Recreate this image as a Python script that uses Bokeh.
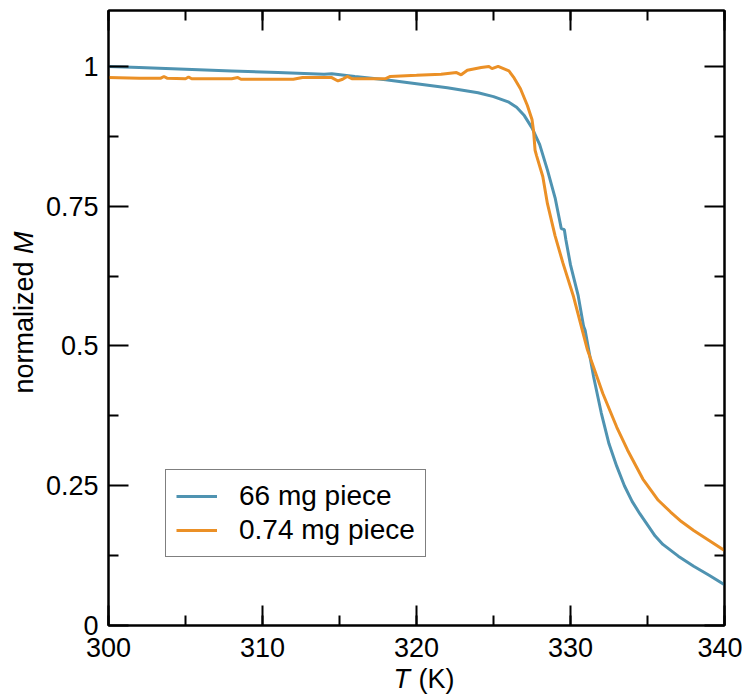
import math
from bokeh.plotting import figure
from bokeh.layouts import row, column
from bokeh.models import (Range1d, LinearAxis, SingleIntervalTicker, FixedTicker,
                          CustomJSTickFormatter, Legend, LegendItem, Label)
from bokeh.embed import file_html
from bokeh.resources import INLINE

# ---- data ----
t_66 = [300.0, 302.0, 305.0, 308.0, 311.0, 314.0, 314.5, 316.0, 318.0, 320.0, 322.0,
        324.0, 325.0, 326.0, 326.5, 327.0, 327.5, 328.0, 328.5, 329.0, 329.4, 329.6,
        329.7, 330.0, 330.5, 330.85, 330.95, 331.5, 332.0, 332.5, 333.0, 333.5, 334.0,
        334.5, 335.0, 335.5, 336.0, 337.0, 338.0, 339.0, 340.0]
m_66 = [1.000, 0.998, 0.995, 0.992, 0.989, 0.986, 0.987, 0.982, 0.976, 0.969, 0.962,
        0.953, 0.946, 0.936, 0.927, 0.912, 0.890, 0.860, 0.815, 0.765, 0.710, 0.708,
        0.690, 0.645, 0.590, 0.535, 0.528, 0.445, 0.380, 0.325, 0.285, 0.250, 0.222,
        0.200, 0.180, 0.160, 0.145, 0.124, 0.106, 0.090, 0.073]

t_074 = [300.0, 302.0, 303.4, 303.6, 303.8, 305.0, 305.2, 305.4, 308.0, 308.4, 308.6,
         310.0, 312.0, 312.6, 314.5, 314.9, 315.2, 315.5, 315.8, 318.0, 318.3, 320.0,
         321.6, 322.6, 322.9, 323.3, 324.2, 324.7, 324.9, 325.3, 326.0, 326.3, 326.75,
         327.2, 327.5, 327.6, 327.7, 327.8, 328.2, 328.5, 329.0, 329.5, 330.2, 331.1,
         332.1, 333.0, 333.7, 334.7, 335.7, 336.5, 337.2, 338.0, 339.0, 340.0]
m_074 = [0.980, 0.979, 0.979, 0.982, 0.979, 0.978, 0.981, 0.978, 0.978, 0.980, 0.977,
         0.977, 0.977, 0.980, 0.980, 0.974, 0.977, 0.982, 0.978, 0.978, 0.982, 0.984,
         0.986, 0.989, 0.985, 0.993, 0.998, 1.000, 0.996, 1.000, 0.992, 0.981, 0.960,
         0.930, 0.905, 0.885, 0.850, 0.840, 0.803, 0.755, 0.697, 0.649, 0.588, 0.493,
         0.415, 0.355, 0.314, 0.262, 0.224, 0.203, 0.186, 0.170, 0.152, 0.134]

y_major = [0, 0.25, 0.5, 0.75, 1.0]
y_minor = [0.125, 0.375, 0.625, 0.875]
y_tick_labels = ["0", "0.25", "0.5", "0.75", "1"]
series_names = ["66 mg piece", "0.74 mg piece"]
colors = ["#4f93b1", "#eb9026"]

FONT = "Liberation Sans"
FS = "27px"
FSN = 27

YT_W = 40          # width of the strip holding the y title
MAIN_W, MAIN_H = 702, 668
XT_H = 38          # height of the strip holding the x title
XT_OVERLAP = 12    # strip pulled up into the (empty) lower border of the plot
FRAME_BOTTOM = 625

p = figure(width=MAIN_W, height=MAIN_H, output_backend="svg", toolbar_location=None,
           x_range=Range1d(300, 340), y_range=Range1d(0, 1.1),
           min_border_left=68, min_border_right=18, min_border_top=10, min_border_bottom=43,
           x_axis_location=None, y_axis_location=None)
p.xgrid.visible = False
p.ygrid.visible = False
p.outline_line_color = "black"
p.outline_line_width = 2
p.background_fill_color = "white"
p.border_fill_color = "white"


def make_xticker():
    return SingleIntervalTicker(interval=10, num_minor_ticks=2)


def make_yticker():
    return FixedTicker(ticks=y_major, minor_ticks=y_minor)


def style(ax, labels=True):
    ax.axis_line_color = "black"
    ax.axis_line_width = 2
    ax.major_tick_in = 20
    ax.major_tick_out = 0
    ax.minor_tick_in = 10
    ax.minor_tick_out = 0
    ax.major_tick_line_width = 2
    ax.minor_tick_line_width = 2
    ax.major_tick_line_color = "black"
    ax.minor_tick_line_color = "black"
    ax.major_label_text_font = FONT
    ax.major_label_text_font_size = FS
    ax.major_label_text_color = "black"
    if not labels:
        ax.formatter = CustomJSTickFormatter(code="return ''")
        ax.major_label_text_font_size = "1px"


xb = LinearAxis(ticker=make_xticker())
style(xb)
xb.major_label_standoff = 12
p.add_layout(xb, "below")

yl = LinearAxis(ticker=make_yticker())
style(yl)
yl.major_label_standoff = 10
yl.major_label_overrides = {v: s for v, s in zip(y_major, y_tick_labels)}
p.add_layout(yl, "left")

xt = LinearAxis(ticker=make_xticker())
style(xt, labels=False)
p.add_layout(xt, "above")

yr = LinearAxis(ticker=make_yticker())
style(yr, labels=False)
p.add_layout(yr, "right")

r1 = p.line(t_66, m_66, line_color=colors[0], line_width=3)
r2 = p.line(t_074, m_074, line_color=colors[1], line_width=3)

legend = Legend(items=[LegendItem(label=series_names[0], renderers=[r1]),
                       LegendItem(label=series_names[1], renderers=[r2])],
                location=(57, 68))
legend.label_text_font = FONT
legend.label_text_font_size = "28px"
legend.label_text_color = "black"
legend.border_line_color = "black"
legend.border_line_width = 1.5
legend.background_fill_color = "white"
legend.background_fill_alpha = 1
legend.glyph_width = 41
legend.glyph_height = 28
legend.label_height = 28
legend.label_standoff = 22
legend.spacing = 2
legend.padding = 10
legend.margin = 0
p.add_layout(legend, "center")


def strip(width, height):
    f = figure(width=width, height=height, output_backend="svg", toolbar_location=None,
               x_range=Range1d(0, 1), y_range=Range1d(0, 1),
               min_border_left=0, min_border_right=0, min_border_top=0, min_border_bottom=0,
               x_axis_location=None, y_axis_location=None)
    f.xgrid.visible = False
    f.ygrid.visible = False
    f.outline_line_color = None
    f.background_fill_alpha = 0
    f.border_fill_alpha = 0
    return f


# y title strip: "normalized M" (M italic), reading upward
ytf = strip(YT_W, MAIN_H)
y_start = FRAME_BOTTOM - 393
y_x = 23
ytf.add_layout(Label(x=y_x, y=y_start, x_units="screen", y_units="screen", text="normalized",
                     text_font=FONT, text_font_size=FS, text_align="left",
                     text_baseline="alphabetic", angle=math.pi / 2, text_color="black"))
ytf.add_layout(Label(x=y_x, y=y_start + 5.168 * FSN, x_units="screen", y_units="screen",
                     text="M", text_font=FONT, text_font_style="italic", text_font_size=FS,
                     text_align="left", text_baseline="alphabetic", angle=math.pi / 2,
                     text_color="black"))

# x title strip: "T (K)" (T italic)
xtf = strip(YT_W + MAIN_W, XT_H)
xtf.margin = (-XT_OVERLAP, 0, 0, 0)
x_base = 16
xtf.add_layout(Label(x=393, y=x_base, x_units="screen", y_units="screen", text="T",
                     text_font=FONT, text_font_style="italic", text_font_size=FS,
                     text_align="left", text_baseline="alphabetic", text_color="black"))
xtf.add_layout(Label(x=418, y=x_base, x_units="screen", y_units="screen", text="(K)",
                     text_font=FONT, text_font_size=FS, text_align="left",
                     text_baseline="alphabetic", text_color="black"))

layout = column(row(ytf, p, spacing=0), xtf, spacing=0)

open("out.html", "w").write(file_html(layout, INLINE))
